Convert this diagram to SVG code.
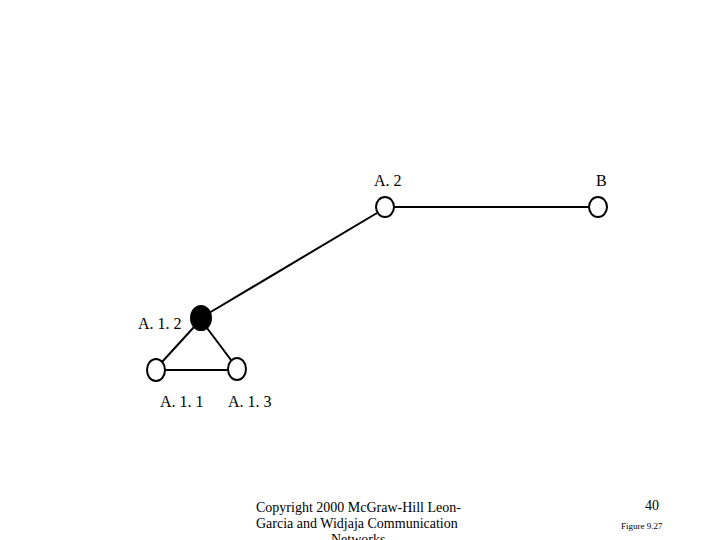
<svg xmlns="http://www.w3.org/2000/svg" width="720" height="540" viewBox="0 0 720 540">
<style>
.n{fill:#fff;stroke:#000;stroke-width:2}
.f{fill:#000;stroke:#000;stroke-width:2}
.e{stroke:#000;stroke-width:2;fill:none}
.t{font-family:"Liberation Serif",serif;font-size:16px;fill:#000}
.c{font-family:"Liberation Serif",serif;font-size:14px;fill:#000}
</style>
<rect width="720" height="540" fill="#fff"/>
<g id="edges">
<line class="e" x1="377" y1="213" x2="209" y2="313"/>
<line class="e" x1="394" y1="207" x2="589" y2="207"/>
<line class="e" x1="194" y1="327" x2="162" y2="362"/>
<line class="e" x1="207" y1="328" x2="231" y2="360"/>
<line class="e" x1="165" y1="370" x2="228" y2="370"/>
</g>
<g id="A2"><ellipse class="n" cx="385" cy="207" rx="9" ry="10"/><text class="t" x="374" y="186">A. 2</text></g>
<g id="B"><ellipse class="n" cx="598" cy="207" rx="9" ry="10"/><text class="t" x="596" y="186">B</text></g>
<g id="A12"><ellipse class="f" cx="201" cy="318" rx="10" ry="12"/><text class="t" x="138" y="329">A. 1. 2</text></g>
<g id="A11"><ellipse class="n" cx="156" cy="370" rx="9" ry="11"/><text class="t" x="160" y="407">A. 1. 1</text></g>
<g id="A13"><ellipse class="n" cx="237" cy="369" rx="9" ry="11"/><text class="t" x="228" y="407">A. 1. 3</text></g>
<g id="footer">
<text class="c" x="256" y="512">Copyright 2000 McGraw-Hill  Leon-</text>
<text class="c" x="256" y="528">Garcia and Widjaja  Communication</text>
<text class="c" x="331" y="544">Networks</text>
<text class="c" x="645" y="510">40</text>
<text x="621" y="529" font-family="Liberation Serif,serif" font-size="9">Figure 9.27</text>
</g>
</svg>
